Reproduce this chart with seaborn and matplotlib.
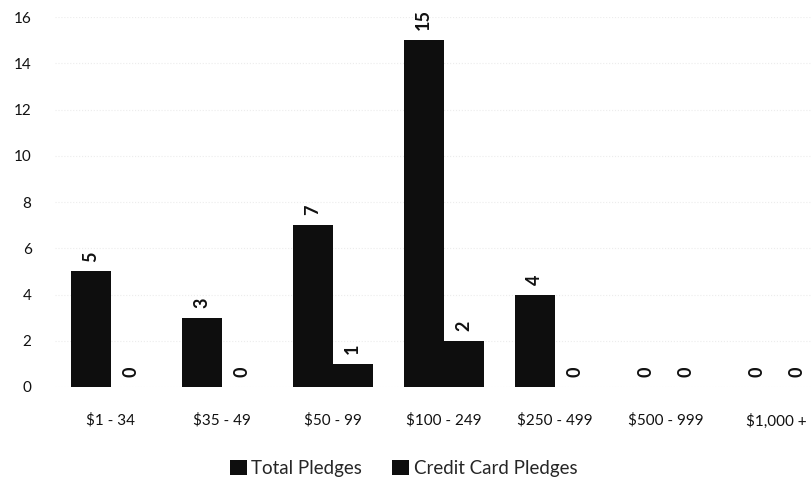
import numpy as np
import pandas as pd
import matplotlib
matplotlib.use("Agg")
import matplotlib.pyplot as plt
import seaborn as sns

categories = ["$1 - 34", "$35 - 49", "$50 - 99", "$100 - 249", "$250 - 499", "$500 - 999", "$1,000 +"]
total_pledges = [5, 3, 7, 15, 4, 0, 0]
credit_card_pledges = [0, 0, 1, 2, 0, 0, 0]
series_names = ["Total Pledges", "Credit Card Pledges"]

df = pd.DataFrame({
    "range": categories * 2,
    "count": total_pledges + credit_card_pledges,
    "series": [series_names[0]] * len(categories) + [series_names[1]] * len(categories),
})

sns.set_theme(style="white")
plt.rcParams["font.family"] = ["Lato", "DejaVu Sans"]

fig = plt.figure(figsize=(8.11, 4.88), dpi=100)
ax = fig.add_axes([0.068, 0.207, 0.932, 0.758])

sns.barplot(data=df, x="range", y="count", hue="series", order=categories,
            hue_order=series_names, palette=["#0e0e0e", "#0e0e0e"],
            width=0.72, saturation=1, linewidth=0, ax=ax)

for cont in ax.containers:
    ax.bar_label(cont, fmt="%d", rotation=90, padding=7, fontsize=13,
                 fontweight="bold", color="#111111")

ax.set_ylim(0, 16)
ax.set_yticks(range(0, 17, 2))
ax.set_xlim(-0.5, 6.31)
ax.yaxis.grid(True, color="#ececec", linestyle=":", linewidth=0.8)
ax.set_axisbelow(True)
sns.despine(ax=ax, left=True, bottom=True)
ax.tick_params(axis="y", length=0, pad=17, labelsize=11, labelcolor="#111111")
ax.tick_params(axis="x", length=0, pad=19, labelsize=11, labelcolor="#111111")
ax.set_xlabel("")
ax.set_ylabel("")

sns.move_legend(ax, "center", bbox_to_anchor=(0.461, -0.22), ncol=2, frameon=False,
                title=None, fontsize=13.5, handlelength=0.9, handleheight=0.9,
                handletextpad=0.25, columnspacing=1.6)

fig.savefig("out.png", dpi=100)
